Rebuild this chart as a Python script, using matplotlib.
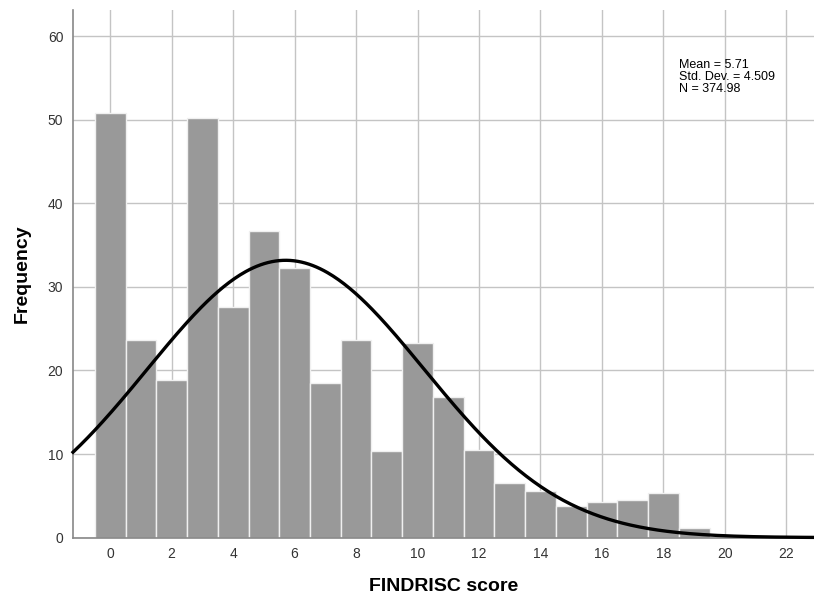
import numpy as np
import matplotlib
matplotlib.use("Agg")
import matplotlib.pyplot as plt

# FINDRISC score histogram with normal curve (SPSS style)
scores = np.arange(0, 20)
freq = [50.8, 23.6, 18.9, 50.2, 27.6, 36.7, 32.2, 18.5, 23.7, 10.4,
        23.3, 16.8, 10.5, 6.5, 5.6, 3.8, 4.2, 4.5, 5.3, 1.2]
mean, sd, n = 5.71, 4.509, 374.98
xticks = list(range(0, 24, 2))
yticks = [0, 10, 20, 30, 40, 50, 60]

plt.rcParams['font.family'] = ['Liberation Sans', 'DejaVu Sans']

fig = plt.figure(figsize=(8.14, 6), dpi=100)
ax = fig.add_axes([0.0897, 0.104, 0.9103, 0.879])

ax.bar(scores, freq, width=1.0, color='#999999', edgecolor='#f0f0f0',
       linewidth=1.0, zorder=2)

xs = np.linspace(-1.21, 22.9, 400)
ys = n * np.exp(-0.5 * ((xs - mean) / sd) ** 2) / (sd * np.sqrt(2 * np.pi))
ax.plot(xs, ys, color='black', linewidth=2.4, zorder=3, clip_on=False)

ax.set_xlim(-1.21, 22.9)
ax.set_ylim(0, 63.1)
ax.set_xticks(xticks)
ax.set_yticks(yticks)
ax.grid(True, color='#c4c4c4', linewidth=1.0, zorder=0)
ax.set_axisbelow(True)
ax.tick_params(length=0, labelsize=10, colors='#333333', pad=7)

for s in ['top', 'right']:
    ax.spines[s].set_visible(False)
for s in ['left', 'bottom']:
    ax.spines[s].set_color('#888888')
    ax.spines[s].set_linewidth(1.2)

ax.set_xlabel('FINDRISC score', fontsize=14, fontweight='bold', labelpad=12)
ax.set_ylabel('Frequency', fontsize=14, fontweight='bold', labelpad=12)

ax.text(0.818, 0.907, 'Mean = %.2f\nStd. Dev. = %.3f\nN = %.2f' % (mean, sd, n),
        transform=ax.transAxes, fontsize=9, va='top', ha='left',
        linespacing=1.0, zorder=4)

fig.savefig('out.png', dpi=100)
